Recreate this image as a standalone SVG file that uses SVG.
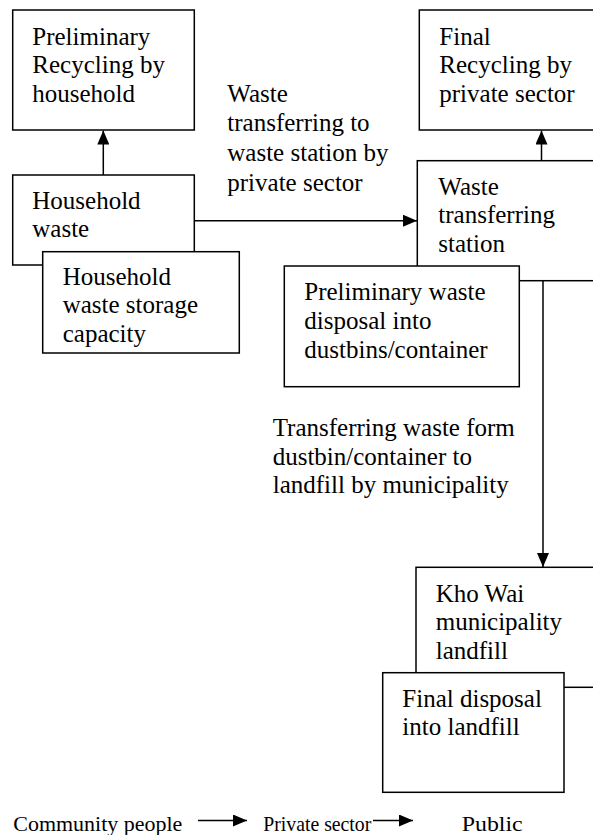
<svg xmlns="http://www.w3.org/2000/svg" width="593" height="835" viewBox="0 0 593 835">
<style>
.box{fill:#fff;stroke:#000;stroke-width:1.5}
.t{font-family:"Liberation Serif","Times New Roman",serif;font-size:25px;fill:#000}
.lg{font-family:"Liberation Serif","Times New Roman",serif;font-size:22px;fill:#000}
.ln{stroke:#000;stroke-width:1.5;fill:none}
</style>
<defs>
<marker id="ah" viewBox="0 0 14 12" refX="14" refY="6" markerWidth="14" markerHeight="12" markerUnits="userSpaceOnUse" orient="auto">
<path d="M0,0 L14,6 L0,12 Z" fill="#000"/>
</marker>
</defs>
<rect width="593" height="835" fill="#fff"/>

<g id="connectors">
<line class="ln" x1="103.3" y1="175" x2="103.3" y2="130.5" marker-end="url(#ah)"/>
<line class="ln" x1="194.3" y1="220.7" x2="417" y2="220.7" marker-end="url(#ah)"/>
<line class="ln" x1="541.5" y1="161" x2="541.5" y2="130.5" marker-end="url(#ah)"/>
<line class="ln" x1="543" y1="280.7" x2="543" y2="567" marker-end="url(#ah)"/>
</g>

<g id="prelim-recycling">
<rect class="box" x="12.7" y="10" width="181.6" height="120"/>
<text class="t" x="32.3"><tspan x="32.3" y="45">Preliminary</tspan><tspan x="32.3" y="73.3">Recycling by</tspan><tspan x="32.3" y="101.7">household</tspan></text>
</g>

<g id="final-recycling">
<rect class="box" x="419.3" y="10" width="190" height="120"/>
<text class="t"><tspan x="439.3" y="45">Final</tspan><tspan x="439.3" y="73.3">Recycling by</tspan><tspan x="439.3" y="101.7">private sector</tspan></text>
</g>

<g id="household-waste">
<rect class="box" x="12.7" y="175" width="181.6" height="90"/>
<text class="t"><tspan x="32.3" y="209">Household</tspan><tspan x="32.3" y="237.3">waste</tspan></text>
</g>

<g id="storage">
<rect class="box" x="42.7" y="251.7" width="196.6" height="101.3"/>
<text class="t"><tspan x="62.7" y="285">Household</tspan><tspan x="62.7" y="313.3">waste storage</tspan><tspan x="62.7" y="341.7">capacity</tspan></text>
</g>

<g id="label-transfer">
<text class="t"><tspan x="227.3" y="101.5">Waste</tspan><tspan x="227.3" y="131">transferring to</tspan><tspan x="227.3" y="161">waste station by</tspan><tspan x="227.3" y="190.5">private sector</tspan></text>
</g>

<g id="station">
<rect class="box" x="417.3" y="160.7" width="190" height="120"/>
<text class="t"><tspan x="438.3" y="195">Waste</tspan><tspan x="438.3" y="223.3">transferring</tspan><tspan x="438.3" y="251.7">station</tspan></text>
</g>

<g id="prelim-disposal">
<rect class="box" x="284.3" y="266" width="235" height="120.7"/>
<text class="t"><tspan x="304.3" y="300">Preliminary waste</tspan><tspan x="304.3" y="329">disposal into</tspan><tspan x="304.3" y="358">dustbins/container</tspan></text>
</g>

<g id="label-municipality">
<text class="t"><tspan x="272.7" y="436">Transferring waste form</tspan><tspan x="272.7" y="464.5">dustbin/container to</tspan><tspan x="272.7" y="493">landfill by municipality</tspan></text>
</g>

<g id="landfill">
<rect class="box" x="416" y="567.3" width="190" height="120"/>
<text class="t"><tspan x="435.7" y="601.7">Kho Wai</tspan><tspan x="435.7" y="630">municipality</tspan><tspan x="435.7" y="659.3">landfill</tspan></text>
</g>

<g id="final-disposal">
<rect class="box" x="382.7" y="672.7" width="181.3" height="119.6"/>
<text class="t"><tspan x="402.3" y="706.7">Final disposal</tspan><tspan x="402.3" y="735">into landfill</tspan></text>
</g>

<g id="legend">
<text class="lg" x="13.3" y="830.5" textLength="169" lengthAdjust="spacingAndGlyphs">Community people</text>
<line class="ln" x1="198" y1="820.5" x2="247" y2="820.5" marker-end="url(#ah)"/>
<text class="lg" x="263.3" y="830.5" font-size="21" textLength="108" lengthAdjust="spacingAndGlyphs">Private sector</text>
<line class="ln" x1="373" y1="820.5" x2="413" y2="820.5" marker-end="url(#ah)"/>
<text class="lg" x="461.7" y="830.5" textLength="61" lengthAdjust="spacingAndGlyphs">Public</text>
</g>
</svg>
